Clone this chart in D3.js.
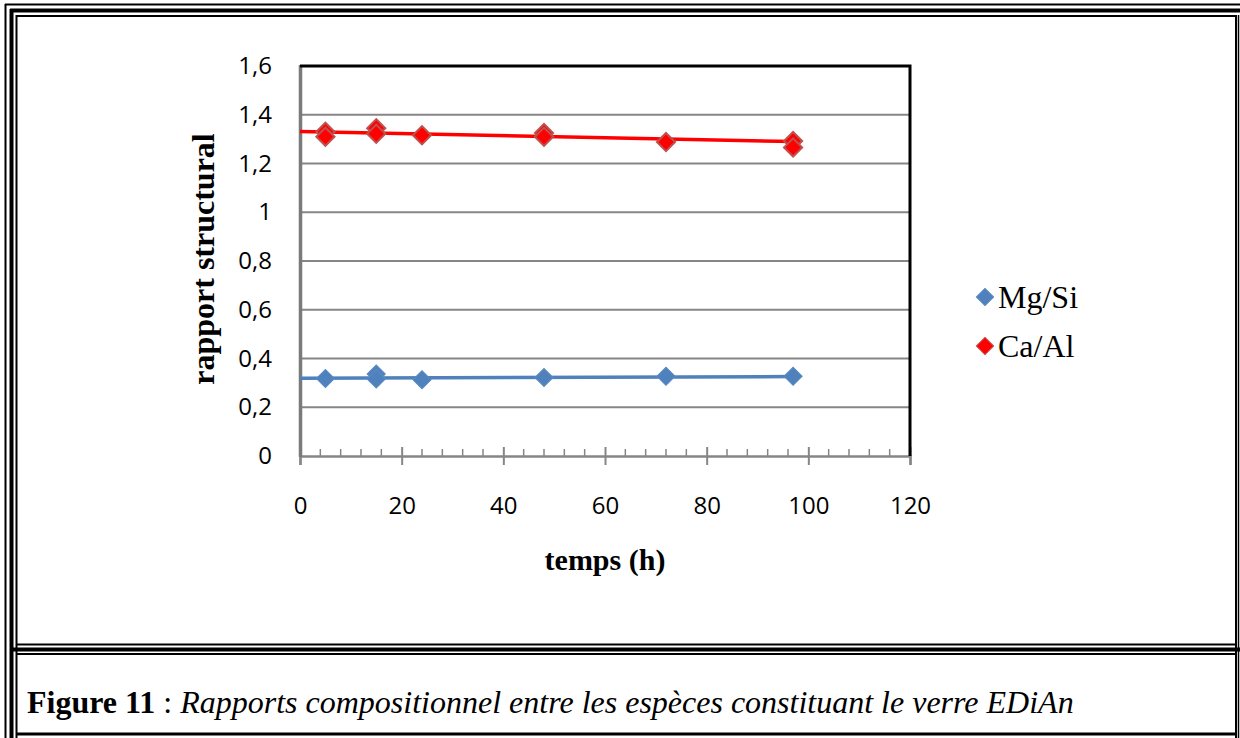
<!DOCTYPE html>
<html><head><meta charset="utf-8">
<script src="https://cdn.jsdelivr.net/npm/d3@7"></script>
<style>body{margin:0;background:#fff}svg{display:block}</style>
</head><body>
<svg id="c" width="1240" height="738"></svg>
<script>
// ---- data ----
const seriesNames = ["Mg/Si", "Ca/Al"];
const timeMg = [5, 15, 15, 24, 48, 72, 97];
const valMg  = [0.318, 0.336, 0.316, 0.313, 0.322, 0.327, 0.327];
const timeCa = [5, 5, 15, 15, 24, 48, 48, 72, 97, 97];
const valCa  = [1.33, 1.31, 1.345, 1.322, 1.316, 1.325, 1.31, 1.288, 1.292, 1.266];
const trendMgX = [0, 97], trendMgY = [0.319, 0.326];
const trendCaX = [0, 97], trendCaY = [1.331, 1.290];
const xTicks = [0, 20, 40, 60, 80, 100, 120];
const yTicks = [0, 0.2, 0.4, 0.6, 0.8, 1, 1.2, 1.4, 1.6];
const xTitle = "temps (h)", yTitle = "rapport structural";
const colors = ["#4F81BD", "#FF0000"];

const svg = d3.select("#c");

// ---- frame (table borders) ----
const fr = svg.append("g").attr("fill", "none").attr("stroke", "#000");
function hl(y, x1, x2, w){ fr.append("line").attr("x1",x1).attr("x2",x2).attr("y1",y).attr("y2",y).attr("stroke-width",w); }
function vl(x, y1, y2, w){ fr.append("line").attr("x1",x).attr("x2",x).attr("y1",y1).attr("y2",y2).attr("stroke-width",w); }
// left triple
vl(5.5, 4, 738, 2); vl(11.5, 9, 738, 4); vl(16.5, 15, 738, 2);
// top triple
hl(4.5, 5, 1240, 2); hl(10.5, 10, 1240, 4); hl(16, 16, 1237, 2);
// right
vl(1236, 15, 738, 2); vl(1238.5, 15, 738, 1.5);
// divider between cells
hl(644.5, 16, 1236, 2); hl(649.5, 10, 1240, 4); hl(654, 16, 1236, 2);
// bottom of caption cell
hl(734, 16, 1237, 3);

// ---- chart ----
const x = d3.scaleLinear().domain([0, 120]).range([300, 910]);
const y = d3.scaleLinear().domain([0, 1.6]).range([456, 66]);

// gridlines
svg.append("g").selectAll("line").data(yTicks.filter(v => v > 0 && v < 1.6)).join("line")
  .attr("x1", 300).attr("x2", 910).attr("y1", d => y(d)).attr("y2", d => y(d))
  .attr("stroke", "#868686").attr("stroke-width", 2);

// y axis (labels only)
const yAxis = d3.axisLeft(y).tickValues(yTicks).tickSize(0).tickPadding(28)
  .tickFormat(d => d3.format("~g")(d).replace(".", ","));
const gy = svg.append("g").attr("transform", "translate(300,0)").call(yAxis);
gy.select(".domain").remove();
gy.selectAll("text").attr("font-family", "Open Sans").attr("font-size", 24).attr("fill", "#000");

// x axis minor ticks
const minor = d3.range(0, 121, 4).filter(v => v % 20 !== 0);
svg.append("g").selectAll("line").data(minor).join("line")
  .attr("x1", d => x(d)).attr("x2", d => x(d)).attr("y1", 449).attr("y2", 456)
  .attr("stroke", "#868686").attr("stroke-width", 1.5);
const xAxis = d3.axisBottom(x).tickValues(xTicks).tickSize(9).tickPadding(32);
const gx = svg.append("g").attr("transform", "translate(0,456)").call(xAxis);
gx.select(".domain").attr("stroke", "#868686").attr("stroke-width", 2.5);
gx.selectAll(".tick line").attr("stroke", "#868686").attr("stroke-width", 2).attr("y1", -9);
gx.selectAll("text").attr("font-family", "Open Sans").attr("font-size", 24).attr("fill", "#000");

// plot border: left gray, top/right black
svg.append("line").attr("x1", 300.5).attr("x2", 300.5).attr("y1", 65).attr("y2", 457)
  .attr("stroke", "#7a7a7a").attr("stroke-width", 3.5);
svg.append("path").attr("d", `M${x(0)},${y(1.6)}H${x(120)}V${y(0)}`)
  .attr("fill", "none").attr("stroke", "#000").attr("stroke-width", 3);

// trend lines
const line = d3.line().x(d => x(d[0])).y(d => y(d[1]));
svg.append("path").attr("d", line(d3.zip(trendMgX, trendMgY))).attr("fill","none")
  .attr("stroke", colors[0]).attr("stroke-width", 3.5);
svg.append("path").attr("d", line(d3.zip(trendCaX, trendCaY))).attr("fill","none")
  .attr("stroke", colors[1]).attr("stroke-width", 3.5);

// markers
const sym = d3.symbol(d3.symbolSquare, 165);
svg.append("g").selectAll("path").data(d3.zip(timeMg, valMg)).join("path")
  .attr("d", sym).attr("transform", d => `translate(${x(d[0])},${y(d[1])}) rotate(45)`)
  .attr("fill", colors[0]).attr("stroke", "#5a8ac4").attr("stroke-width", 1);
svg.append("g").selectAll("path").data(d3.zip(timeCa, valCa)).join("path")
  .attr("d", sym).attr("transform", d => `translate(${x(d[0])},${y(d[1])}) rotate(45)`)
  .attr("fill", colors[1]).attr("stroke", "#C0504D").attr("stroke-width", 2);

// axis titles
svg.append("text").attr("x", 605).attr("y", 570).attr("text-anchor", "middle")
  .attr("font-family", "Liberation Serif").attr("font-weight", "bold").attr("font-size", 30)
  .text(xTitle);
svg.append("text").attr("transform", "translate(214,259) rotate(-90)").attr("text-anchor", "middle")
  .attr("font-family", "Liberation Serif").attr("font-weight", "bold").attr("font-size", 32)
  .text(yTitle);

// legend
const lg = svg.append("g");
seriesNames.forEach((n, i) => {
  const cy = 297 + i * 49;
  lg.append("path").attr("d", d3.symbol(d3.symbolSquare, 150)())
    .attr("transform", `translate(985,${cy}) rotate(45)`)
    .attr("fill", colors[i]).attr("stroke", i ? "#C0504D" : "#5a8ac4").attr("stroke-width", 1);
  lg.append("text").attr("x", 998).attr("y", cy + 11)
    .attr("font-family", "Liberation Serif").attr("font-size", 32).text(n);
});

// caption
const cap = svg.append("text").attr("x", 27).attr("y", 713)
  .attr("font-family", "Liberation Serif").attr("font-size", 32);
cap.append("tspan").attr("font-weight", "bold").text("Figure 11");
cap.append("tspan").text(" : ");
cap.append("tspan").attr("font-style", "italic").text("Rapports compositionnel entre les espèces constituant le verre EDiAn");
</script>
</body></html>
